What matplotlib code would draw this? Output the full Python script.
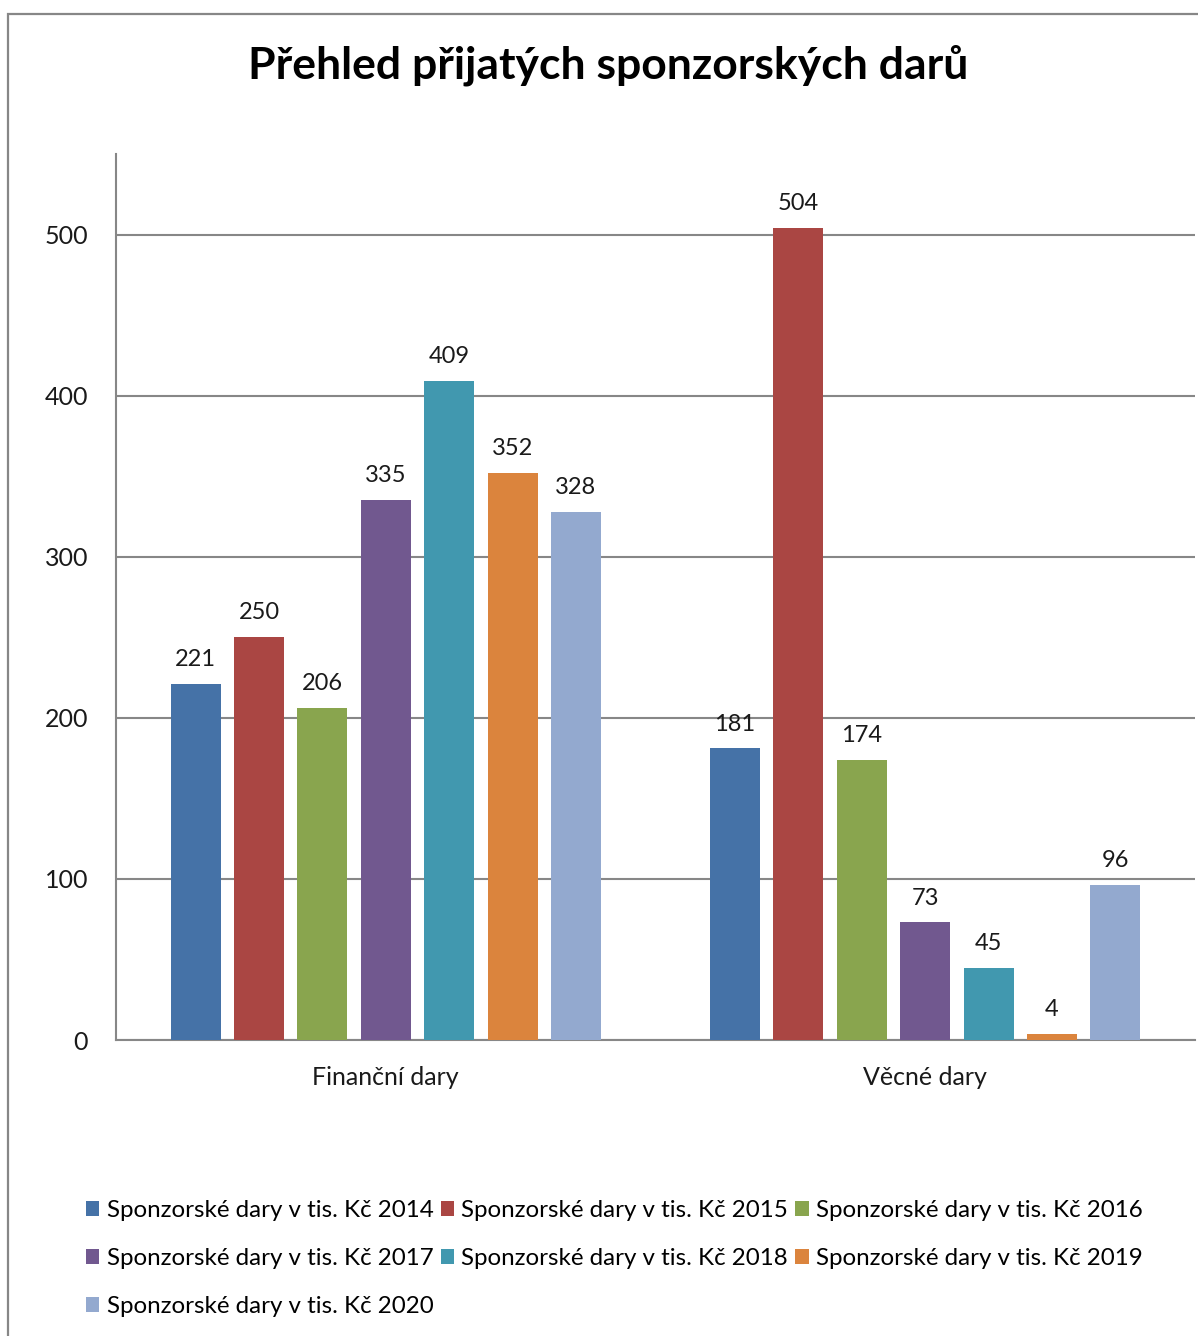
import numpy as np
import matplotlib
matplotlib.use("Agg")
import matplotlib.pyplot as plt
from matplotlib.patches import Rectangle, Patch

plt.rcParams["font.family"] = ["Lato", "DejaVu Sans"]

categories = ["Finanční dary", "Věcné dary"]
years = ["2014", "2015", "2016", "2017", "2018", "2019", "2020"]
values_2014 = [221, 181]
values_2015 = [250, 504]
values_2016 = [206, 174]
values_2017 = [335, 73]
values_2018 = [409, 45]
values_2019 = [352, 4]
values_2020 = [328, 96]
series = [values_2014, values_2015, values_2016, values_2017, values_2018, values_2019, values_2020]
colors = ["#4572A7", "#AA4643", "#89A54E", "#71588F", "#4198AF", "#DB843D", "#93A9CF"]
yticks = [0, 100, 200, 300, 400, 500]

W, H = 1198, 1336
fig = plt.figure(figsize=(W / 100, H / 100), dpi=100)

# outer chart frame
fig.patches.append(Rectangle((8 / W, -0.01), 1.02, 1 - 14 / H + 0.01, transform=fig.transFigure,
                             fill=False, edgecolor="#878787", linewidth=1.6))

ax = fig.add_axes([116 / W, 1 - 1040 / H, (1195 - 116) / W, (1040 - 154) / H])
ax.set_xlim(0, 2)
ax.set_ylim(0, 550)

pitch = 0.1175
width = 0.0927
x = np.arange(len(categories)) + 0.5
for i, (vals, col) in enumerate(zip(series, colors)):
    pos = x + (i - 3) * pitch
    bars = ax.bar(pos, vals, width=width, color=col, label=f"Sponzorské dary v tis. Kč {years[i]}", zorder=3)
    for b, v in zip(bars, vals):
        ax.annotate(str(v), (b.get_x() + b.get_width() / 2, v), xytext=(0, 10), textcoords="offset points",
                    ha="center", va="bottom", fontsize=17, color="#1a1a1a")

ax.set_yticks(yticks)
ax.set_yticklabels([str(t) for t in yticks], fontsize=18, color="#1a1a1a")
ax.set_xticks(x)
ax.set_xticklabels(categories, fontsize=18, color="#1a1a1a")
ax.tick_params(axis="y", length=0, pad=20)
ax.tick_params(axis="x", length=0, pad=19)
ax.yaxis.grid(True, color="#878787", linewidth=1.5, zorder=0)
ax.set_axisbelow(True)
for s in ["top", "right"]:
    ax.spines[s].set_visible(False)
for s in ["left", "bottom"]:
    ax.spines[s].set_color("#878787")
    ax.spines[s].set_linewidth(1.5)

fig.text(608 / W, 1 - 65 / H, "Přehled přijatých sponzorských darů", ha="center", va="center",
         fontsize=32, fontweight="bold", color="black")

handles = [Patch(facecolor=c, edgecolor="none") for c in colors]
labels = [f"Sponzorské dary v tis. Kč {y}" for y in years]
order = [0, 3, 6, 1, 4, 2, 5]
fig.legend([handles[k] for k in order], [labels[k] for k in order], ncol=3, frameon=False,
           loc="upper left", bbox_to_anchor=(86 / W, 1 - 1200 / H), fontsize=17.4,
           handlelength=0.55, handleheight=0.55, handletextpad=0.3, columnspacing=0.3,
           labelspacing=1.12, borderpad=0, borderaxespad=0)

fig.savefig("out.png", dpi=100, facecolor="white")
